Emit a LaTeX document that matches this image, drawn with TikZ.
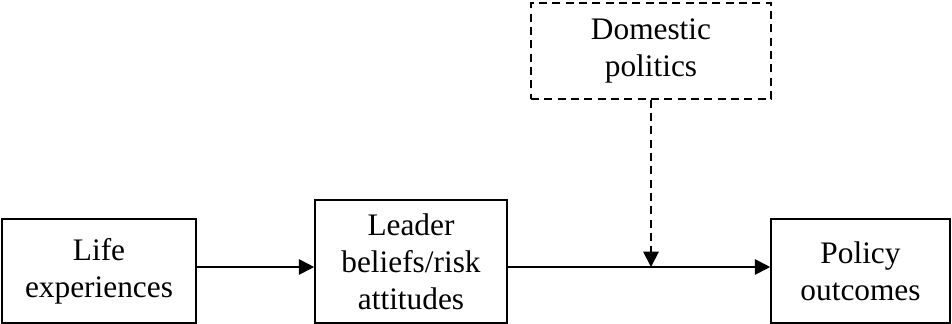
\documentclass[tikz,border=0pt]{standalone}
\usepackage{fontspec}
\setmainfont{Liberation Serif}
\usepackage{tikz}
\usetikzlibrary{arrows.meta, positioning, calc}

\begin{document}
\begin{tikzpicture}[
  x=0.75pt, y=-0.75pt,
  box/.style={draw, line width=1.2pt, inner sep=0pt, align=center,
    font=\fontsize{23.5}{27.75}\selectfont},
  dbox/.style={box, dash pattern=on 6pt off 4pt},
  link/.style={line width=1.5pt, -{Triangle[length=11.5pt, width=11.5pt]}},
  >=Stealth
]
  \useasboundingbox (0,0) rectangle (952,324);

  % main chain
  \node[box, minimum width=194*0.75pt, minimum height=104*0.75pt] (life) at (99,271) {Life\\experiences};
  \node[box, minimum width=192*0.75pt, minimum height=123*0.75pt] (leader) at (411,261.5) {Leader\\beliefs/risk\\attitudes};
  \node[box, minimum width=179*0.75pt, minimum height=104*0.75pt] (policy) at (860.5,271) {Policy\\outcomes};

  % moderator
  \node[dbox, minimum width=240*0.75pt, minimum height=96*0.75pt] (domestic) at (651,51) {Domestic\\politics};

  \draw[link] ([yshift=3pt]life.east) -- ([yshift=3pt]leader.west |- life.east);
  \draw[link] ([yshift=3pt]leader.east |- life.east) -- ([yshift=3pt]policy.west);
  \draw[link, dash pattern=on 6pt off 4pt] (domestic.south) -- ([yshift=3pt]domestic.south |- policy.west);
\end{tikzpicture}
\end{document}
